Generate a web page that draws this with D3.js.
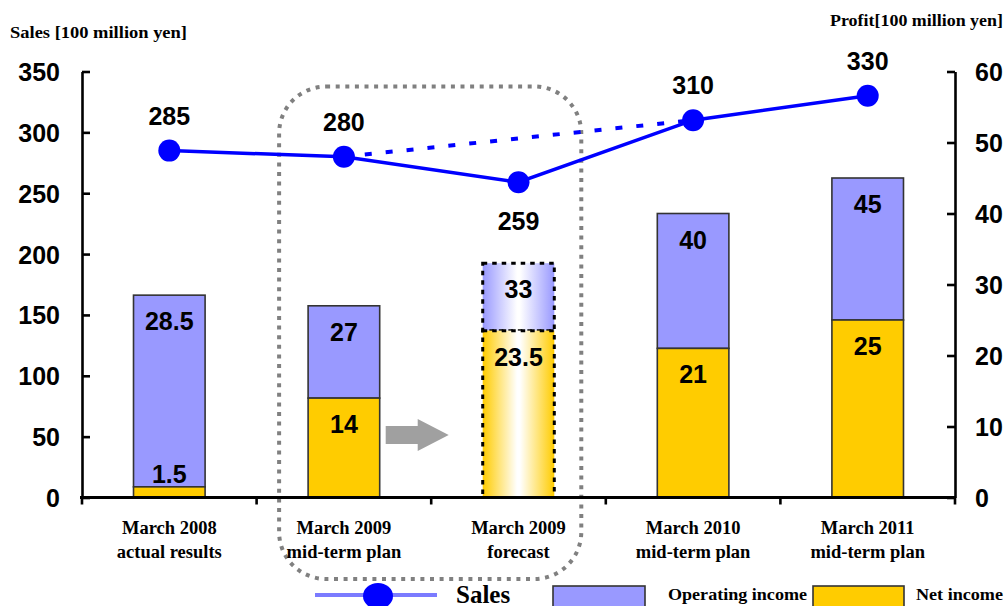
<!DOCTYPE html>
<html><head><meta charset="utf-8">
<script src="https://cdn.jsdelivr.net/npm/d3@7"></script>
<style>
html,body{margin:0;padding:0;background:#fff;}
svg{display:block;}
</style></head>
<body>
<svg id="chart" width="1005" height="606"></svg>
<script>
const categories = ["March 2008\nactual results", "March 2009\nmid-term plan", "March 2009\nforecast", "March 2010\nmid-term plan", "March 2011\nmid-term plan"];
const sales = [285, 280, 259, 310, 330];
const salesPlan = [null, 280, null, 310, null];
const operatingIncome = [28.5, 27, 33, 40, 45];
const netIncome = [1.5, 14, 23.5, 21, 25];
const isForecast = [false, false, true, false, false];
const salesTicks = [0, 50, 100, 150, 200, 250, 300, 350];
const profitTicks = [0, 10, 20, 30, 40, 50, 60];

const svg = d3.select("#chart");
const pLeft = 82, pRight = 955, pTop = 71.5, pBottom = 497.5;
const OP = "#9999FF", NET = "#FFCC00", BLUE = "#0000FF";
const sansB = "'Liberation Sans', Arial, sans-serif";
const serifB = "'Liberation Serif', 'Times New Roman', serif";

const x = d3.scaleBand().domain(categories).range([pLeft, pRight]).paddingInner(0.59).paddingOuter(0.295);
const xc = d => x(d) + x.bandwidth() / 2;
const yL = d3.scaleLinear().domain([0, 350]).range([pBottom, pTop]);
const yR = d3.scaleLinear().domain([0, 60]).range([pBottom, pTop]);

// gradients
const defs = svg.append("defs");
function grad(id, c) {
  const g = defs.append("linearGradient").attr("id", id).attr("x1", "0%").attr("x2", "100%").attr("y1", "0%").attr("y2", "0%");
  g.append("stop").attr("offset", "0%").attr("stop-color", c);
  g.append("stop").attr("offset", "48%").attr("stop-color", "#fff");
  g.append("stop").attr("offset", "52%").attr("stop-color", "#fff");
  g.append("stop").attr("offset", "100%").attr("stop-color", c);
}
grad("gOp", OP); grad("gNet", NET);

// axis titles
svg.append("text").attr("x", 10).attr("y", 38).attr("font-family", serifB).attr("font-weight", "bold")
  .attr("font-size", 17.5).attr("textLength", 177).attr("lengthAdjust", "spacingAndGlyphs").text("Sales [100 million yen]");
svg.append("text").attr("x", 1003).attr("y", 26).attr("text-anchor", "end").attr("font-family", serifB).attr("font-weight", "bold")
  .attr("font-size", 17.5).attr("textLength", 173).attr("lengthAdjust", "spacingAndGlyphs").text("Profit[100 million yen]");

// dotted rounded highlight box
const i1 = categories[1], i2 = categories[2];
svg.append("rect")
  .attr("x", x(i1) - 29).attr("y", 86.5)
  .attr("width", (x(i2) + x.bandwidth() + 27) - (x(i1) - 29)).attr("height", 579 - 86.5)
  .attr("rx", 47).attr("ry", 47)
  .attr("fill", "none").attr("stroke", "#808080").attr("stroke-width", 4).attr("stroke-dasharray", "4 5.6");

// bars
const data = categories.map((c, i) => ({c, op: operatingIncome[i], net: netIncome[i], f: isForecast[i]}));
const bars = svg.append("g");
bars.selectAll(".op").data(data).join("rect")
  .attr("x", d => x(d.c)).attr("width", x.bandwidth())
  .attr("y", d => yR(d.op)).attr("height", d => yR(d.net) - yR(d.op))
  .attr("fill", d => d.f ? "url(#gOp)" : OP)
  .attr("stroke", d => d.f ? "#000" : "#333")
  .attr("stroke-width", d => d.f ? 3 : 1.6)
  .attr("stroke-dasharray", d => d.f ? "4.5 5" : null);
bars.selectAll(".net").data(data).join("rect")
  .attr("x", d => x(d.c)).attr("width", x.bandwidth())
  .attr("y", d => yR(d.net)).attr("height", d => yR(0) - yR(d.net))
  .attr("fill", d => d.f ? "url(#gNet)" : NET)
  .attr("stroke", d => d.f ? "#000" : "#333")
  .attr("stroke-width", d => d.f ? 3 : 1.6)
  .attr("stroke-dasharray", d => d.f ? "4.5 5" : null);

// bar labels
bars.selectAll(".opl").data(data).join("text")
  .attr("x", d => xc(d.c)).attr("y", d => yR(d.op) + 35)
  .attr("text-anchor", "middle").attr("font-family", sansB).attr("font-weight", "bold").attr("font-size", 25)
  .text(d => d.op);
bars.selectAll(".netl").data(data).join("text")
  .attr("x", d => xc(d.c)).attr("y", d => (yR(0) - yR(d.net) < 40) ? yR(d.net) - 4 : yR(d.net) + 35)
  .attr("text-anchor", "middle").attr("font-family", sansB).attr("font-weight", "bold").attr("font-size", 25)
  .text(d => d.net);

// gray arrow from plan to forecast
{
  const x0 = x(i1) + x.bandwidth() + 6, x2 = x(i2) - 34, xm = x2 - 31, yc = 435;
  svg.append("path")
    .attr("d", `M${x0},${yc - 9}H${xm}V${yc - 16}L${x2},${yc}L${xm},${yc + 16}V${yc + 9}H${x0}Z`)
    .attr("fill", "#A0A0A0");
}

// axes
const gL = svg.append("g").attr("transform", `translate(${pLeft},0)`)
  .call(d3.axisLeft(yL).tickValues(salesTicks).tickSizeInner(-8).tickSizeOuter(0).tickPadding(22));
const gR = svg.append("g").attr("transform", `translate(${pRight},0)`)
  .call(d3.axisRight(yR).tickValues(profitTicks).tickSizeInner(-8).tickSizeOuter(0).tickPadding(20));
[gL, gR].forEach(g => {
  g.selectAll("path,line").attr("stroke", "#000").attr("stroke-width", 2.6);
  g.selectAll("text").attr("font-family", sansB).attr("font-weight", "bold").attr("font-size", 25).attr("fill", "#000").attr("dy", "0.36em");
});
// x axis
const step = x.step();
const xb = d3.range(categories.length + 1).map(i => pLeft + i * step);
svg.append("line").attr("x1", pLeft - 2).attr("x2", pRight + 1).attr("y1", pBottom).attr("y2", pBottom)
  .attr("stroke", "#000").attr("stroke-width", 2.8);
svg.append("g").selectAll("line").data(xb).join("line")
  .attr("x1", d => d).attr("x2", d => d).attr("y1", pBottom).attr("y2", pBottom + 7)
  .attr("stroke", "#000").attr("stroke-width", 2.6);
const cl = svg.append("g").selectAll("text").data(categories).join("text")
  .attr("x", d => xc(d)).attr("y", 534).attr("text-anchor", "middle")
  .attr("font-family", serifB).attr("font-weight", "bold").attr("font-size", 18.5);
cl.each(function(d) {
  const parts = d.split("\n");
  d3.select(this).selectAll("tspan").data(parts).join("tspan")
    .attr("x", xc(d)).attr("dy", (p, i) => i === 0 ? 0 : 24).text(p => p);
});

// sales lines
const pts = categories.map((c, i) => ({c, v: sales[i], p: salesPlan[i], i}));
const line = d3.line().x(d => xc(d.c)).y(d => yL(d.v));
svg.append("path").datum(pts.filter(d => d.p != null).map(d => ({c: d.c, v: d.p})))
  .attr("d", line).attr("fill", "none").attr("stroke", BLUE).attr("stroke-width", 4).attr("stroke-dasharray", "7 14");
svg.append("path").datum(pts).attr("d", line).attr("fill", "none").attr("stroke", BLUE).attr("stroke-width", 3.5);
svg.append("g").selectAll("circle").data(pts).join("circle")
  .attr("cx", d => xc(d.c)).attr("cy", d => yL(d.v)).attr("r", 11).attr("fill", BLUE);
const isMin = (d) => d.i > 0 && d.i < sales.length - 1 && d.v < sales[d.i - 1] && d.v < sales[d.i + 1];
svg.append("g").selectAll("text").data(pts).join("text")
  .attr("x", d => xc(d.c)).attr("y", d => isMin(d) ? yL(d.v) + 48 : yL(d.v) - 26)
  .attr("text-anchor", "middle").attr("font-family", sansB).attr("font-weight", "bold").attr("font-size", 25)
  .text(d => d.v);

// legend
const lg = svg.append("g");
lg.append("line").attr("x1", 315).attr("x2", 437).attr("y1", 595).attr("y2", 595).attr("stroke", "#7B7BFF").attr("stroke-width", 4);
lg.append("ellipse").attr("cx", 378).attr("cy", 596).attr("rx", 15).attr("ry", 13).attr("fill", BLUE);
lg.append("text").attr("x", 456).attr("y", 603).attr("font-family", serifB).attr("font-weight", "bold").attr("font-size", 25).text("Sales");
lg.append("rect").attr("x", 553).attr("y", 586).attr("width", 92).attr("height", 30).attr("fill", OP).attr("stroke", "#333").attr("stroke-width", 1.6);
lg.append("text").attr("x", 668).attr("y", 600).attr("font-family", serifB).attr("font-weight", "bold").attr("font-size", 17)
  .attr("textLength", 139).attr("lengthAdjust", "spacingAndGlyphs").text("Operating income");
lg.append("rect").attr("x", 813).attr("y", 586).attr("width", 91).attr("height", 30).attr("fill", NET).attr("stroke", "#333").attr("stroke-width", 1.6);
lg.append("text").attr("x", 916).attr("y", 600).attr("font-family", serifB).attr("font-weight", "bold").attr("font-size", 17)
  .attr("textLength", 87).attr("lengthAdjust", "spacingAndGlyphs").text("Net income");
</script>
</body></html>
